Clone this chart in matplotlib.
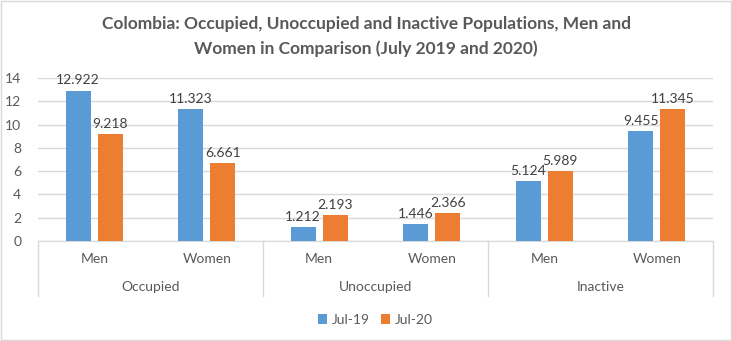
import matplotlib
matplotlib.use("Agg")
import matplotlib.pyplot as plt
from matplotlib.patches import Rectangle
import numpy as np

groups = ["Occupied", "Unoccupied", "Inactive"]
sexes = ["Men", "Women"]
series_names = ["Jul-19", "Jul-20"]
jul19 = [12.922, 11.323, 1.212, 1.446, 5.124, 9.455]
jul20 = [9.218, 6.661, 2.193, 2.366, 5.989, 11.345]
yticks = [0, 2, 4, 6, 8, 10, 12, 14]
title = "Colombia: Occupied, Unoccupied and Inactive Populations, Men and\nWomen in Comparison (July 2019 and 2020)"

FONT = "Lato"
TXT = "#595959"
BLUE = "#5B9BD5"
ORANGE = "#ED7D31"

plt.rcParams['font.family'] = [FONT, 'DejaVu Sans']

fig = plt.figure(figsize=(7.32, 3.41), dpi=100)
fig.patches.append(Rectangle((0.001, 0.002), 0.997, 0.995, transform=fig.transFigure,
                             fill=False, edgecolor="#d9d9d9", linewidth=1))
ax = fig.add_axes([38/732, 1-241/341, (713-38)/732, (241-78)/341])

n = len(jul19)
x = np.arange(n)
w = 0.22
off = 0.143
b1 = ax.bar(x - off, jul19, w, color=BLUE, label=series_names[0], zorder=3)
b2 = ax.bar(x + off, jul20, w, color=ORANGE, label=series_names[1], zorder=3)
for bars, vals in ((b1, jul19), (b2, jul20)):
    for r, v in zip(bars, vals):
        ax.annotate(f"{v:.3f}", (r.get_x() + r.get_width()/2, v), xytext=(0, 3),
                    textcoords="offset points", ha="center", va="bottom",
                    fontsize=10, color="#404040")

ax.set_xlim(-0.5, n - 0.5)
ax.set_ylim(0, 14)
ax.set_yticks(yticks)
ax.set_yticklabels([str(t) for t in yticks], fontsize=10, color=TXT)
ax.tick_params(axis="y", length=0, pad=12)
ax.set_xticks([])
ax.grid(axis="y", color="#d9d9d9", linewidth=1, zorder=0)
for s in ["top", "right", "left"]:
    ax.spines[s].set_visible(False)
ax.spines["bottom"].set_color("#d9d9d9")

trans = ax.get_xaxis_transform()
for i in range(n):
    ax.text(i, -0.110, sexes[i % 2], transform=trans, ha="center", va="center",
            fontsize=10, color=TXT, clip_on=False)
for g, name in enumerate(groups):
    ax.text(2*g + 0.5, -0.282, name, transform=trans, ha="center", va="center",
            fontsize=10, color=TXT, clip_on=False)
for k in range(len(groups) + 1):
    ax.plot([2*k - 0.5, 2*k - 0.5], [0, -0.337], transform=trans, color="#d9d9d9",
            linewidth=1, clip_on=False)

fig.text(0.5, 1-36.5/341, title, ha="center", va="center", fontsize=12.5,
         fontweight="bold", color=TXT, linespacing=1.65)

leg = fig.legend(handles=[b1, b2], loc="center", bbox_to_anchor=(375/732, 1-320/341),
                 ncol=2, frameon=False, fontsize=10, handlelength=0.7, handleheight=0.7,
                 columnspacing=0.8, handletextpad=0.3)
for t in leg.get_texts():
    t.set_color(TXT)

fig.savefig("out.png", dpi=100)
